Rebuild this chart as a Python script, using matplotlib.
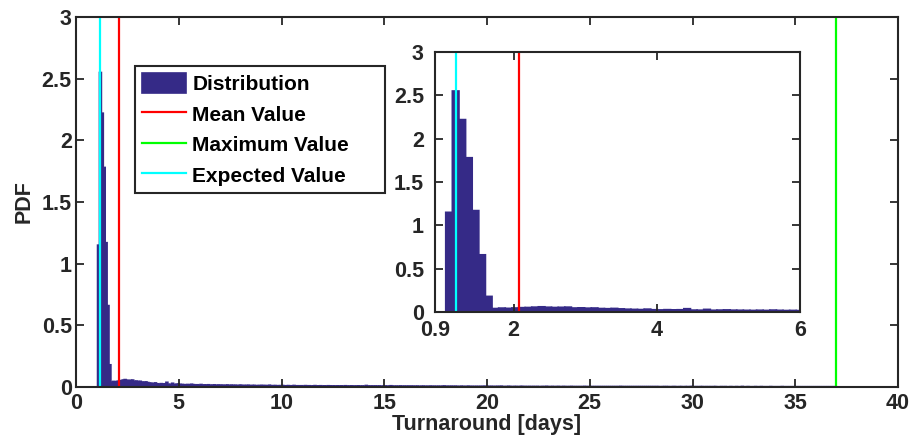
import numpy as np
import matplotlib
matplotlib.use('Agg')
import matplotlib.pyplot as plt

# histogramme de la duree de traitement (PDF), classes du min au max
bin_start = 1.05
pdf_head = [1.15, 2.55, 2.22, 1.78, 1.17, 0.66, 0.18]
pdf_tail = [
    0.040, 0.045, 0.042, 0.046, 0.050, 0.052, 0.056, 0.060, 0.055, 0.052, 0.054, 0.056, 0.046, 0.048, 0.044, 0.046, 0.040, 0.038, 0.041, 0.036,
    0.032, 0.030, 0.028, 0.033, 0.026, 0.024, 0.027, 0.025, 0.026, 0.038, 0.022, 0.021, 0.030, 0.020, 0.022, 0.024, 0.021, 0.020, 0.019, 0.018,
    0.020, 0.018, 0.022, 0.019, 0.017, 0.018, 0.016, 0.020, 0.015, 0.017, 0.016, 0.018, 0.014, 0.015, 0.017, 0.013, 0.016, 0.014, 0.015, 0.013,
    0.014, 0.016, 0.012, 0.015, 0.013, 0.014, 0.012, 0.013, 0.015, 0.011, 0.013, 0.012, 0.014, 0.011, 0.012, 0.013, 0.010, 0.012, 0.011, 0.013,
    0.011, 0.012, 0.010, 0.014, 0.011, 0.010, 0.012, 0.009, 0.011, 0.010, 0.012, 0.009, 0.010, 0.011, 0.009, 0.010, 0.012, 0.009, 0.010, 0.009,
    0.010, 0.008, 0.011, 0.009, 0.010, 0.008, 0.009, 0.011, 0.008, 0.009, 0.010, 0.008, 0.009, 0.008, 0.010, 0.009, 0.008, 0.009, 0.007, 0.009,
    0.008, 0.009, 0.007, 0.010, 0.008, 0.007, 0.009, 0.008, 0.007, 0.008, 0.009, 0.007, 0.008, 0.007, 0.012, 0.008, 0.007, 0.008, 0.007, 0.008,
    0.007, 0.008, 0.006, 0.007, 0.008, 0.006, 0.007, 0.010, 0.007, 0.006, 0.007, 0.006, 0.008, 0.006, 0.007, 0.006, 0.007, 0.006, 0.007, 0.006,
    0.006, 0.007, 0.005, 0.006, 0.007, 0.005, 0.006, 0.005, 0.007, 0.005, 0.006, 0.005, 0.006, 0.005, 0.006, 0.008, 0.005, 0.006, 0.005, 0.006,
    0.005, 0.006, 0.005, 0.004, 0.006, 0.005, 0.004, 0.005, 0.006, 0.004, 0.005, 0.004, 0.005, 0.004, 0.005, 0.004, 0.006, 0.004, 0.005, 0.004,
    0.005, 0.004, 0.004, 0.005, 0.004, 0.006, 0.004, 0.003, 0.004, 0.005, 0.004, 0.003, 0.004, 0.004, 0.003, 0.004, 0.005, 0.003, 0.004, 0.003,
    0.004, 0.003, 0.004, 0.003, 0.004, 0.003, 0.003, 0.004, 0.003, 0.005, 0.003, 0.003, 0.004, 0.003, 0.003, 0.004, 0.003, 0.003, 0.004, 0.003,
    0.003, 0.003, 0.004, 0.003, 0.003, 0.003, 0.003, 0.003, 0.003, 0.004, 0.003, 0.003, 0.003, 0.003, 0.003, 0.003, 0.003, 0.003, 0.003, 0.003,
    0.003, 0.003, 0.003, 0.003, 0.003, 0.003, 0.003, 0.003, 0.004, 0.003, 0.003, 0.003, 0.003, 0.003, 0.003, 0.003, 0.003, 0.003, 0.003, 0.003,
    0.003, 0.003, 0.003, 0.003, 0.003, 0.003, 0.003, 0.003, 0.003, 0.002, 0.003, 0.003, 0.003, 0.003, 0.002, 0.003, 0.003, 0.003, 0.002, 0.003,
    0.003, 0.002, 0.003, 0.003, 0.002, 0.004, 0.003, 0.002, 0.003, 0.002, 0.003, 0.003, 0.002, 0.003, 0.002, 0.003, 0.002, 0.003, 0.003, 0.002,
    0.002, 0.003, 0.002, 0.003, 0.002, 0.002, 0.003, 0.002, 0.002, 0.003, 0.002, 0.002, 0.004, 0.002, 0.002, 0.003, 0.002, 0.002, 0.002, 0.003,
    0.002, 0.002, 0.003, 0.002, 0.002, 0.002, 0.002, 0.003, 0.002, 0.002, 0.002, 0.002, 0.002, 0.003, 0.002, 0.002, 0.002, 0.002, 0.002, 0.002,
    0.002, 0.002, 0.002, 0.002, 0.002, 0.002, 0.002, 0.002, 0.002, 0.002, 0.002, 0.002, 0.002, 0.002, 0.002, 0.002, 0.002, 0.002, 0.002, 0.002,
    0.002, 0.002,
]
pdf = pdf_head + pdf_tail

mean_val = 2.08
max_val = 37.0
expected_val = 1.19

main_xticks = [0, 5, 10, 15, 20, 25, 30, 35, 40]
yticks = [0, 0.5, 1, 1.5, 2, 2.5, 3]
ytick_labels = ['0', '0.5', '1', '1.5', '2', '2.5', '3']
inset_xticks = [0.9, 2, 4, 6]
inset_xtick_labels = ['0.9', '2', '4', '6']

bar_color = '#352a87'
axis_color = '#262626'

plt.rcParams['font.family'] = ['Liberation Sans', 'DejaVu Sans']
plt.rcParams['font.weight'] = 'bold'
plt.rcParams['axes.labelweight'] = 'bold'

# les classes vont du debut jusqu'a la valeur max
bin_width = (max_val - bin_start) / len(pdf)
edges = bin_start + bin_width * np.arange(len(pdf))

fig = plt.figure(figsize=(9.17, 4.42), dpi=100)
ax = fig.add_axes([76 / 917, 1 - 387 / 442, 822 / 917, 370 / 442])
ins = fig.add_axes([435 / 917, 1 - 312 / 442, 365 / 917, 260 / 442])


def dessine(a, xpad, ypad):
    h = [a.bar(edges, pdf, width=bin_width, align='edge', color=bar_color,
               edgecolor=bar_color, linewidth=1.2, snap=False, label='Distribution')]
    h += a.plot([mean_val, mean_val], [0, 3], color='#ff0000', lw=1.6, label='Mean Value')
    h += a.plot([max_val, max_val], [0, 3], color='#00ff00', lw=1.6, label='Maximum Value')
    h += a.plot([expected_val, expected_val], [0, 3], color='#00ffff', lw=1.6, label='Expected Value')
    a.set_ylim(0, 3)
    a.set_yticks(yticks)
    a.set_yticklabels(ytick_labels)
    a.tick_params(direction='in', top=True, right=True, length=6, width=1.3,
                  colors=axis_color, labelcolor=axis_color, labelsize=15.5)
    a.tick_params(axis='x', pad=xpad)
    a.tick_params(axis='y', pad=ypad)
    for s in a.spines.values():
        s.set_linewidth(1.5)
        s.set_color(axis_color)
        s.set_zorder(5)
    return h


poignees = dessine(ax, 4, 3)
ax.set_xlim(0, 40)
ax.set_xticks(main_xticks)
ax.set_xlabel('Turnaround [days]', fontsize=15.5, color=axis_color, labelpad=0)
ax.set_ylabel('PDF', fontsize=15.5, color=axis_color, labelpad=5)

dessine(ins, 6, 8)
ins.set_xlim(0.9, 6)
ins.set_xticks(inset_xticks)
ins.set_xticklabels(inset_xtick_labels)

# legende elargie comme dans la figure d'origine
leg = ax.legend(handles=poignees, loc='upper left', mode='expand',
                bbox_to_anchor=(135 / 917, 1 - 193 / 442, 250 / 917, 127 / 442),
                bbox_transform=fig.transFigure, fancybox=False, framealpha=1,
                edgecolor=axis_color, fontsize=15, handlelength=2.1,
                handleheight=1.1, handletextpad=0.3, borderpad=0.35,
                labelspacing=0.45, borderaxespad=0)
leg.get_frame().set_linewidth(1.5)
for t in leg.get_texts():
    t.set_fontweight('bold')

fig.savefig('out.png', dpi=100)
